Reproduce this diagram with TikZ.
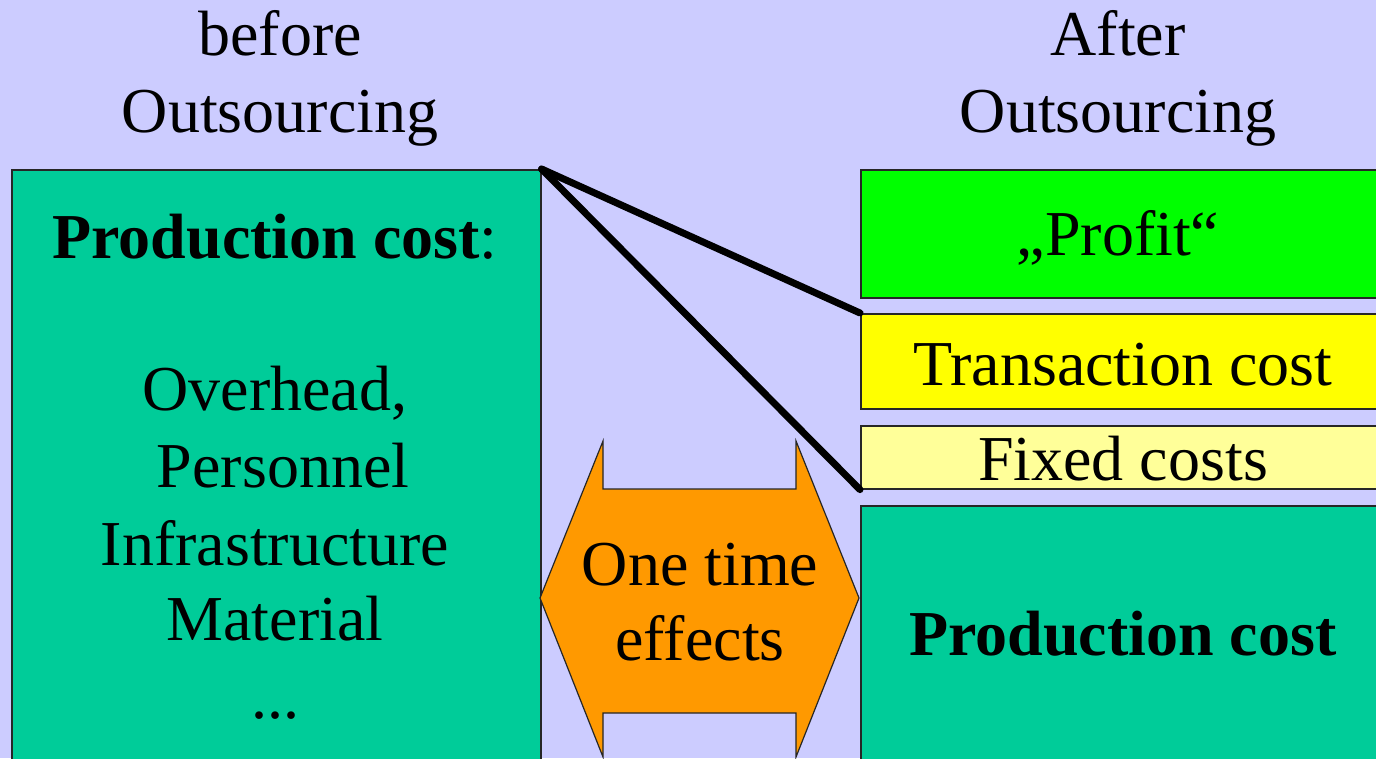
\documentclass[tikz,border=0pt]{standalone}
\usepackage{fontspec}
\setmainfont{Liberation Serif}
\definecolor{bgc}{HTML}{CCCCFF}
\definecolor{teal}{HTML}{00CC99}
\definecolor{grn}{HTML}{00FF00}
\definecolor{ylw}{HTML}{FFFF00}
\definecolor{lylw}{HTML}{FFFF99}
\definecolor{orng}{HTML}{FF9900}
\begin{document}
\begin{tikzpicture}[x=1pt,y=-1pt,
  box/.style={draw=black!85, line width=1.6pt, rectangle, inner sep=0pt, anchor=north west},
  txt/.style={anchor=base, inner sep=0pt, font=\fontsize{64}{77}\selectfont},
  btxt/.style={txt, font=\fontsize{64}{77}\selectfont\bfseries},
  conn/.style={line width=7pt, line cap=round}]
\useasboundingbox (0,0) rectangle (1376,758);
\clip (0,0) rectangle (1376,758);
\fill[bgc] (0,0) rectangle (1376,758);
% boxes
\node[box, fill=teal, minimum width=529pt, minimum height=620pt] (left) at (11,169) {};
\node[box, fill=grn, minimum width=540pt, minimum height=128pt] (profit) at (860,169) {};
\node[box, fill=ylw, minimum width=540pt, minimum height=95pt] (trans) at (860,313) {};
\node[box, fill=lylw, minimum width=540pt, minimum height=63pt] (fixed) at (860,425) {};
\node[box, fill=teal, minimum width=540pt, minimum height=300pt] (prod) at (860,505) {};
% orange double arrow
\draw[fill=orng, draw=black!85, line width=1.2pt] (540,598) -- (603,441) -- (603,489) -- (796,489) -- (796,441) -- (859,598) -- (796,757) -- (796,713) -- (603,713) -- (603,757) -- cycle;
% connectors
\draw[conn] (left.north east) -- (trans.north west);
\draw[conn] (left.north east) -- (fixed.south west);
% headings
\node[txt] (h1) at (280,55) {before};
\node[txt] (h2) at (280,132) {Outsourcing};
\node[txt] (h3) at (1118,55) {After};
\node[txt] (h4) at (1118,132) {Outsourcing};
% left content
\node[txt] (l0) at (275,258) {\textbf{Production cost}:};
\node[txt] (l1) at (275,410) {Overhead,};
\node[txt] (l2) at (283,487) {Personnel};
\node[txt] (l3) at (275,565) {Infrastructure};
\node[txt] (l4) at (275,640) {Material};
\node[txt] (l5) at (275,718) {...};
% right content
\node[txt] (r1) at (1118,255) {„Profit“};
\node[txt] (r2) at (1123,385) {Transaction cost};
\node[txt] (r3) at (1123,480) {Fixed costs};
\node[btxt] (r4) at (1123,655) {Production cost};
% orange text
\node[txt] (o1) at (700,585) {One time};
\node[txt] (o2) at (700,660) {effects};
\end{tikzpicture}
\end{document}
